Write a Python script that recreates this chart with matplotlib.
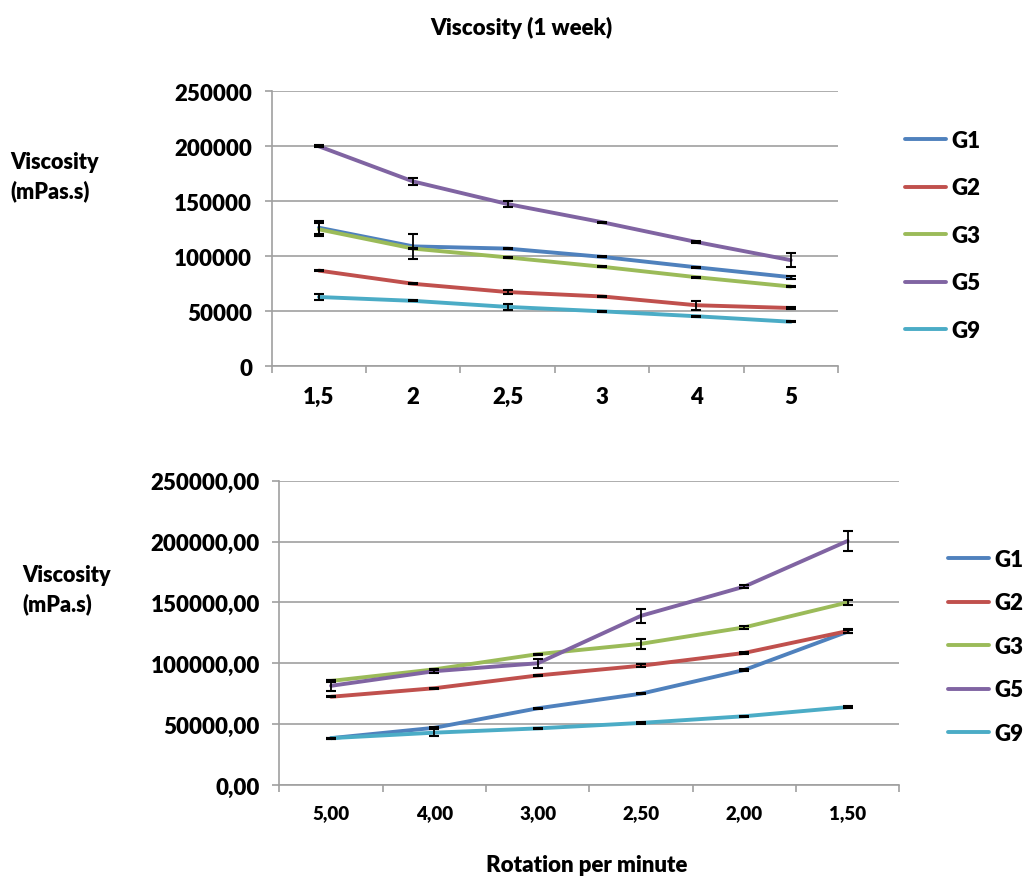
import matplotlib
matplotlib.use("Agg")
import matplotlib.pyplot as plt
import numpy as np
from matplotlib.ticker import FixedLocator, FuncFormatter

plt.rcParams['font.family'] = ['Lato', 'DejaVu Sans']
WT = 'heavy'

series_names = ["G1", "G2", "G3", "G5", "G9"]
colors = ["#4F81BD", "#C0504D", "#9BBB59", "#8064A2", "#4BACC6"]

# Top chart (1 week)
top_labels = ["1,5", "2", "2,5", "3", "4", "5"]
top_G1 = [126000, 109000, 107000, 99500, 90000, 81000]
top_G2 = [87000, 75000, 67500, 63500, 55500, 53000]
top_G3 = [124500, 107000, 99000, 90500, 81000, 72500]
top_G5 = [200000, 168000, 147500, 131000, 113000, 96500]
top_G9 = [63000, 59500, 54000, 50000, 45500, 40500]
top_G1_err = [6000, 11000, 500, 500, 500, 1500]
top_G2_err = [500, 500, 1500, 500, 4000, 500]
top_G3_err = [6000, 500, 500, 500, 500, 500]
top_G5_err = [1000, 3500, 2500, 500, 500, 6500]
top_G9_err = [3000, 500, 3000, 500, 500, 500]

# Bottom chart
bot_labels = ["5,00", "4,00", "3,00", "2,50", "2,00", "1,50"]
bot_G1 = [38500, 47000, 63000, 75000, 94500, 126000]
bot_G2 = [72500, 79500, 90000, 98000, 108500, 126500]
bot_G3 = [85500, 95000, 107500, 116000, 129500, 150000]
bot_G5 = [81500, 93500, 100000, 139000, 163000, 200500]
bot_G9 = [38500, 43000, 46500, 51000, 56500, 64000]
bot_G1_err = [500, 500, 500, 500, 500, 1000]
bot_G2_err = [500, 500, 500, 1000, 1000, 1500]
bot_G3_err = [500, 500, 500, 4000, 1500, 2000]
bot_G5_err = [4500, 1500, 3500, 5500, 1500, 8000]
bot_G9_err = [500, 3000, 500, 500, 500, 500]

fig = plt.figure(figsize=(10.25, 8.79), dpi=100)

W, H = 1025, 879
def rect(l, r, t, b):
    return [l / W, 1 - b / H, (r - l) / W, (b - t) / H]

ax1 = fig.add_axes(rect(271.7, 838, 92.3, 367.3))
ax2 = fig.add_axes(rect(279.4, 899.3, 481.7, 786))

def style(ax, labels, fmt, xfs, yfs):
    n = len(labels)
    ax.set_xlim(-0.5, n - 0.5)
    ax.set_ylim(0, 250000)
    ax.set_yticks(np.arange(0, 250001, 50000))
    ax.yaxis.set_major_formatter(FuncFormatter(fmt))
    ax.grid(axis='y', color='#A0A0A0', linewidth=1.2)
    ax.set_axisbelow(True)
    ax.xaxis.set_major_locator(FixedLocator(np.arange(n)))
    ax.set_xticklabels(labels, fontsize=xfs, fontweight=WT)
    ax.xaxis.set_minor_locator(FixedLocator(np.arange(-0.5, n, 1.0)))
    ax.tick_params(axis='x', which='major', length=0, pad=14)
    ax.tick_params(axis='x', which='minor', length=5, color='#A0A0A0', width=1.2)
    ax.tick_params(axis='y', length=5, color='#A0A0A0', width=1.2, labelsize=yfs, pad=9)
    for lab in ax.get_yticklabels():
        lab.set_fontweight(WT)
    for s in ['top', 'right']:
        ax.spines[s].set_visible(False)
    for s in ['left', 'bottom']:
        ax.spines[s].set_color('#A0A0A0')
        ax.spines[s].set_linewidth(1.2)

def draw(ax, vals, errs):
    x = np.arange(len(vals[0]))
    handles = []
    for v, c, nm in zip(vals, colors, series_names):
        h, = ax.plot(x, v, color=c, linewidth=2.8, label=nm, zorder=3,
                     solid_capstyle='round')
        handles.append(h)
    for v, e in zip(vals, errs):
        ax.errorbar(x, v, yerr=e, fmt='none', ecolor='black', elinewidth=1.3,
                    capsize=3.5, capthick=1.5, zorder=4)
    return handles

h1 = draw(ax1, [top_G1, top_G2, top_G3, top_G5, top_G9],
          [top_G1_err, top_G2_err, top_G3_err, top_G5_err, top_G9_err])
style(ax1, top_labels, lambda v, p: f"{int(v)}", 16, 16)

h2 = draw(ax2, [bot_G1, bot_G2, bot_G3, bot_G5, bot_G9],
          [bot_G1_err, bot_G2_err, bot_G3_err, bot_G5_err, bot_G9_err])
style(ax2, bot_labels, lambda v, p: f"{int(v)},00", 13.5, 16)

fig.legend(handles=h1, labels=series_names, loc='upper left',
           bbox_to_anchor=(905 / W, 1 - 131 / H), frameon=False,
           prop={'size': 16, 'weight': WT}, handlelength=1.85,
           handletextpad=0.25, labelspacing=1.19, borderpad=0, borderaxespad=0)
fig.legend(handles=h2, labels=series_names, loc='upper left',
           bbox_to_anchor=(948 / W, 1 - 550 / H), frameon=False,
           prop={'size': 16, 'weight': WT}, handlelength=1.85,
           handletextpad=0.25, labelspacing=1.01, borderpad=0, borderaxespad=0)

fig.text(521 / W, 1 - 28 / H, "Viscosity (1 week)", ha='center', va='center',
         fontsize=16, fontweight=WT)
fig.text(10 / W, 1 - 177 / H, "Viscosity\n(mPas.s)", ha='left', va='center',
         fontsize=15.5, fontweight=WT, linespacing=1.45)
fig.text(22 / W, 1 - 590 / H, "Viscosity\n(mPa.s)", ha='left', va='center',
         fontsize=15.5, fontweight=WT, linespacing=1.45)
fig.text(587 / W, 1 - 866 / H, "Rotation per minute", ha='center', va='center',
         fontsize=16, fontweight=WT)

fig.savefig("out.png", dpi=100, facecolor='white')
